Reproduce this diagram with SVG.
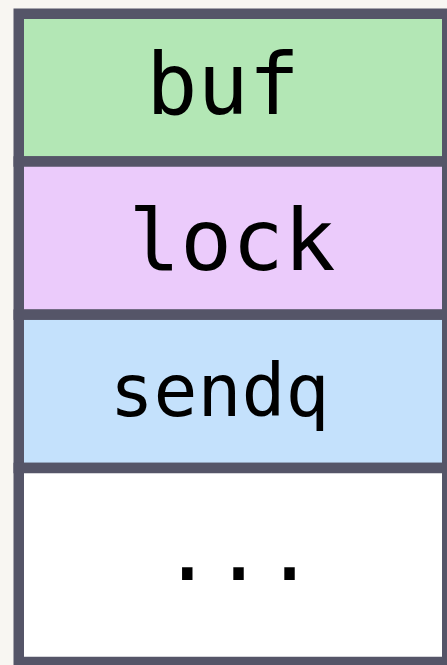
<svg xmlns="http://www.w3.org/2000/svg" width="447" height="665" viewBox="0 0 447 665">
<style>
.cell{stroke:#555568;stroke-width:10.5}
.t{font-family:"DejaVu Sans Mono",monospace;fill:#000;text-anchor:middle}
</style>
<rect x="0" y="0" width="447" height="665" fill="#f8f6f2"/>
<g id="buf"><rect class="cell" x="18.75" y="13.75" width="428.5" height="147.75" fill="#b3e7b5"/><text class="t" x="223" y="114" font-size="85">buf</text></g>
<g id="lock"><rect class="cell" x="18.75" y="161.5" width="428.5" height="153.2" fill="#ebcbfb"/><text class="t" x="232" y="270" font-size="86">lock</text></g>
<g id="sendq"><rect class="cell" x="18.75" y="314.7" width="428.5" height="153.3" fill="#c4e1fc"/><text class="t" x="219.5" y="416" font-size="73">sendq</text></g>
<g id="more"><rect class="cell" x="18.75" y="468" width="428.5" height="194" fill="#ffffff"/><text class="t" x="238.5" y="580" font-size="85">...</text></g>
<g id="connectors"/>
</svg>
